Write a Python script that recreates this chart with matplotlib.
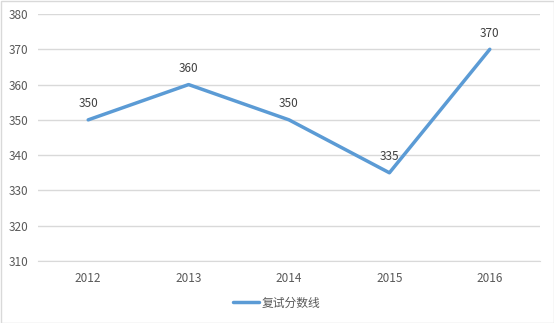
import matplotlib
matplotlib.use("Agg")
import matplotlib.pyplot as plt
from matplotlib.patches import Rectangle

plt.rcParams['font.family'] = ['Noto Sans CJK SC', 'DejaVu Sans']

years = ["2012", "2013", "2014", "2015", "2016"]
scores = [350, 360, 350, 335, 370]
series_name = "复试分数线"
yticks = [310, 320, 330, 340, 350, 360, 370, 380]

text_color = "#595959"
grid_color = "#D9D9D9"
line_color = "#5B9BD5"

fig = plt.figure(figsize=(5.54, 3.23), dpi=100)
ax = fig.add_axes([38/554, 1-261/323, (540-38)/554, (261-14)/323])

x = list(range(len(years)))
ax.plot(x, scores, color=line_color, lw=2.5, solid_capstyle='round', label=series_name, zorder=3)
for xi, v in zip(x, scores):
    ax.annotate(str(v), (xi, v), xytext=(0, 7), textcoords='offset points',
                ha='center', va='bottom', fontsize=8.5, color="#404040")

ax.set_xlim(-0.5, len(years) - 0.5)
ax.set_ylim(310, 380)
ax.set_yticks(yticks)
ax.set_xticks(x)
ax.set_xticklabels(years)
ax.grid(axis='y', color=grid_color, lw=1)
ax.set_axisbelow(True)
for s in ['top', 'right', 'left']:
    ax.spines[s].set_visible(False)
ax.spines['bottom'].set_color(grid_color)
ax.tick_params(axis='both', length=0, labelsize=8.5, labelcolor=text_color)
ax.tick_params(axis='y', pad=7)
ax.tick_params(axis='x', pad=8)

fig.legend(loc='center', bbox_to_anchor=(0.5, 1-303/323), frameon=False,
           fontsize=8.5, labelcolor=text_color, handlelength=2.2, handletextpad=0.2)

fig.patches.append(Rectangle((0.5/554, 0.5/323), 1-1/554, 1-1/323, transform=fig.transFigure,
                             fill=False, edgecolor=grid_color, lw=1))

fig.savefig("out.png", dpi=100)
